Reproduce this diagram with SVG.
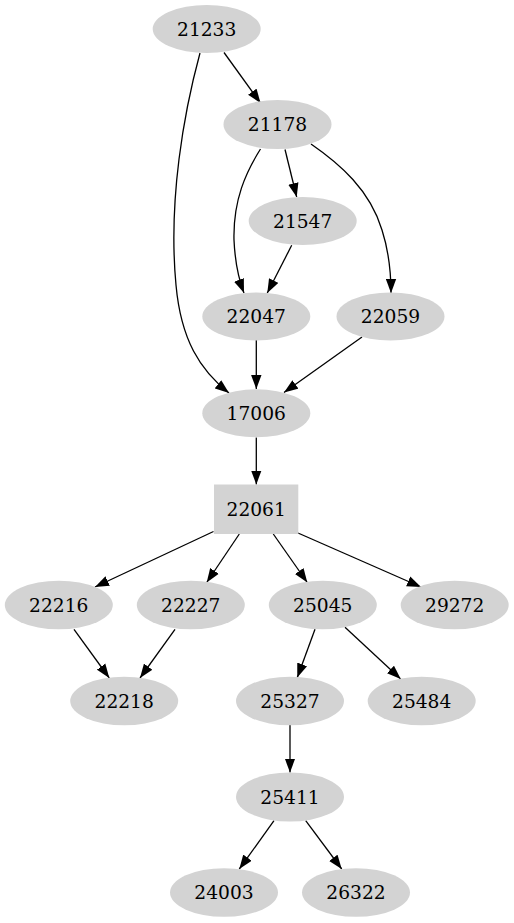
<svg xmlns="http://www.w3.org/2000/svg" width="514" height="923" viewBox="0 0 514 923">
<style>
.n ellipse,.n rect{fill:#d3d3d3;stroke:none}
.n text{font-family:"DejaVu Serif","Liberation Serif",serif;font-size:18.67px;text-anchor:middle;fill:#000}
.e path{fill:none;stroke:#000;stroke-width:1.3;marker-end:url(#ah)}
</style>
<defs>
<marker id="ah" markerUnits="userSpaceOnUse" markerWidth="15" markerHeight="11" refX="14" refY="5.2" orient="auto" viewBox="0 0 15 10.4">
<path d="M0,0 L14,5.2 L0,10.4 z" fill="#000"/>
</marker>
</defs>
<rect width="514" height="923" fill="#fff"/>
<g id="connectors" class="e">
<path d="M224,52.5 L260.5,103"/>
<path d="M200,53 C184,112 168,200 176,285 C181,340 200,370 229,393"/>
<path d="M285,149.5 L296.7,197"/>
<path d="M260.5,149 C246,172 233,200 234,240 C235,262 239,280 244,293"/>
<path d="M291.7,245.3 L267.3,293"/>
<path d="M311,144 C340,164 370,190 382,230 C389,252 391,272 391,293"/>
<path d="M256.3,340 L256.3,389"/>
<path d="M362,337 L284,392.5"/>
<path d="M256.3,437.5 L256.3,484.5"/>
<path d="M213.5,531.5 L95,587"/>
<path d="M239.3,534 L206.7,582.5"/>
<path d="M273.3,534 L307.3,582.5"/>
<path d="M298,533 L421,587"/>
<path d="M74,629.3 L109.3,678"/>
<path d="M175,629.3 L140,678"/>
<path d="M315,629.3 L297.3,677.5"/>
<path d="M345,627.3 L400.7,679"/>
<path d="M290,725 L290,772.5"/>
<path d="M274,820.7 L239.3,869"/>
<path d="M305.7,820.7 L341.7,869"/>
</g>
<g id="n21233" class="n"><ellipse cx="206.7" cy="29" rx="54" ry="24"/><text x="206.7" y="35.5">21233</text></g>
<g id="n21178" class="n"><ellipse cx="277.5" cy="124.5" rx="54" ry="24.5"/><text x="277.5" y="131">21178</text></g>
<g id="n21547" class="n"><ellipse cx="302.7" cy="221" rx="54" ry="24"/><text x="302.7" y="227.5">21547</text></g>
<g id="n22047" class="n"><ellipse cx="256.3" cy="316.5" rx="54" ry="24"/><text x="256.3" y="323">22047</text></g>
<g id="n22059" class="n"><ellipse cx="390.5" cy="316.5" rx="54" ry="24"/><text x="390.5" y="323">22059</text></g>
<g id="n17006" class="n"><ellipse cx="256.3" cy="413.3" rx="54" ry="24"/><text x="256.3" y="419.8">17006</text></g>
<g id="n22061" class="n"><rect x="214" y="484.5" width="84.3" height="49.5"/><text x="256.2" y="515.7">22061</text></g>
<g id="n22216" class="n"><ellipse cx="58.8" cy="605" rx="54" ry="24.3"/><text x="58.8" y="611.5">22216</text></g>
<g id="n22227" class="n"><ellipse cx="190.8" cy="605" rx="54" ry="24.3"/><text x="190.8" y="611.5">22227</text></g>
<g id="n25045" class="n"><ellipse cx="322.8" cy="605" rx="54" ry="24.3"/><text x="322.8" y="611.5">25045</text></g>
<g id="n29272" class="n"><ellipse cx="454.7" cy="605" rx="54" ry="24.3"/><text x="454.7" y="611.5">29272</text></g>
<g id="n22218" class="n"><ellipse cx="124.2" cy="701" rx="54" ry="24.3"/><text x="124.2" y="707.5">22218</text></g>
<g id="n25327" class="n"><ellipse cx="290" cy="701" rx="54" ry="24.3"/><text x="290" y="707.5">25327</text></g>
<g id="n25484" class="n"><ellipse cx="421.7" cy="701" rx="54" ry="24.3"/><text x="421.7" y="707.5">25484</text></g>
<g id="n25411" class="n"><ellipse cx="290" cy="797" rx="54" ry="24.5"/><text x="290" y="803.5">25411</text></g>
<g id="n24003" class="n"><ellipse cx="224" cy="892.5" rx="54" ry="24.3"/><text x="224" y="899">24003</text></g>
<g id="n26322" class="n"><ellipse cx="356" cy="892.5" rx="54" ry="24.3"/><text x="356" y="899">26322</text></g>
</svg>
